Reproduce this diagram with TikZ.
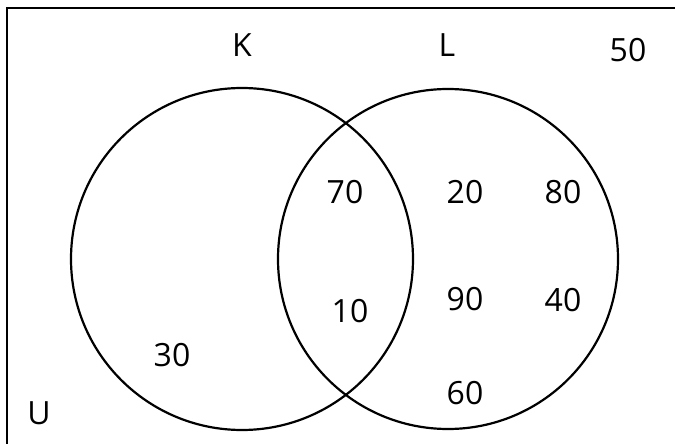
\documentclass[tikz,border=0pt]{standalone}
\usepackage{fontspec}
\setmainfont{Open Sans}
\begin{document}
\begin{tikzpicture}[x=1pt,y=-1pt,
  setcircle/.style={circle,draw,line width=2.2pt,minimum size=#1,inner sep=0pt},
  lbl/.style={font=\fontsize{32}{38}\selectfont,inner sep=0pt,anchor=center}]
\useasboundingbox (0,0) rectangle (675,444);
\coordinate (tl) at (7,8);
\coordinate (tr) at (676,8);
\coordinate (bl) at (7,445);
\draw[line width=2.2pt] (tr) -- (tl) -- (bl);
\node[setcircle=342pt] (K) at (242,259) {};
\node[setcircle=340pt] (Lc) at (448,259) {};
\node[lbl] (kl) at (242,45) {K};
\node[lbl] (ll) at (447,45) {L};
\node[lbl] (n50) at (628,50) {50};
\node[lbl] (n70) at (345,192) {70};
\node[lbl] (n20) at (465,192) {20};
\node[lbl] (n80) at (563,192) {80};
\node[lbl] (n10) at (350,311) {10};
\node[lbl] (n90) at (465,299) {90};
\node[lbl] (n40) at (563,300) {40};
\node[lbl] (n60) at (465,393) {60};
\node[lbl] (n30) at (172,355) {30};
\node[lbl] (u) at (39,413) {U};
\end{tikzpicture}
\end{document}
